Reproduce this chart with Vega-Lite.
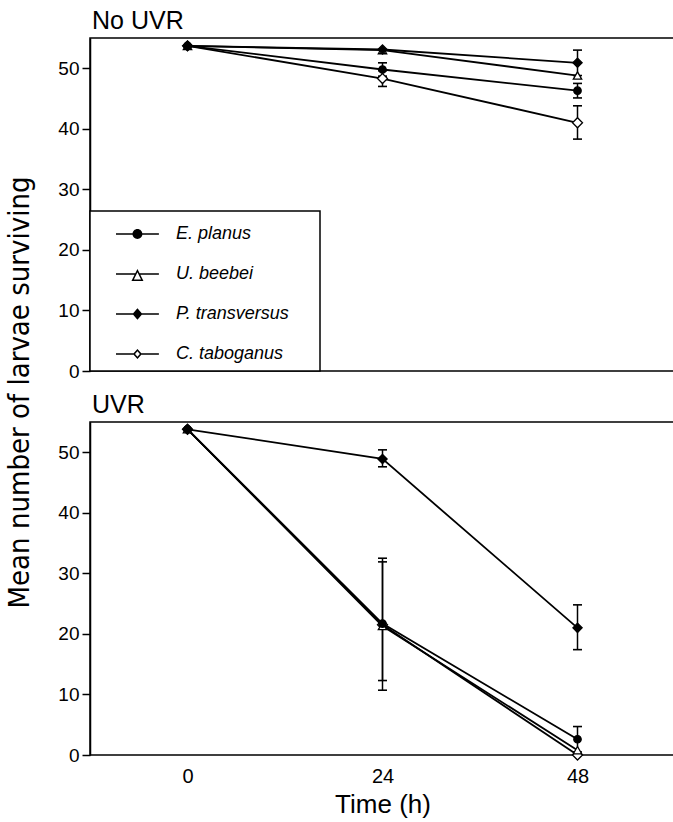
{
  "$schema": "https://vega.github.io/schema/vega-lite/v6.json",
  "background": "white",
  "padding": {"left": 4, "top": 8, "right": 0, "bottom": 5},
  "spacing": 51,
  "bounds": "flush",
  "config": {
    "view": {"stroke": "black", "strokeWidth": 1.5},
    "font": "Liberation Sans",
    "axis": {"domainColor": "black", "domainWidth": 1.5, "tickColor": "black", "tickWidth": 1.5, "labelColor": "black", "labelFont": "Liberation Sans", "labelFontSize": 19, "grid": false, "titleColor": "black"},
    "title": {"font": "Liberation Sans", "fontSize": 25, "fontWeight": "normal", "anchor": "start", "frame": "group", "color": "black", "offset": 4},
    "legend": {"strokeWidth": 1.5}
  },
  "datasets": {
    "means": [
      {"panel": "No UVR", "species": "C. taboganus", "time": 0, "mean": 53.7},
      {"panel": "No UVR", "species": "C. taboganus", "time": 24, "mean": 48.3},
      {"panel": "No UVR", "species": "C. taboganus", "time": 48, "mean": 41.0},
      {"panel": "No UVR", "species": "U. beebei", "time": 0, "mean": 53.7},
      {"panel": "No UVR", "species": "U. beebei", "time": 24, "mean": 53.0},
      {"panel": "No UVR", "species": "U. beebei", "time": 48, "mean": 48.8},
      {"panel": "No UVR", "species": "E. planus", "time": 0, "mean": 53.7},
      {"panel": "No UVR", "species": "E. planus", "time": 24, "mean": 49.8},
      {"panel": "No UVR", "species": "E. planus", "time": 48, "mean": 46.3},
      {"panel": "No UVR", "species": "P. transversus", "time": 0, "mean": 53.7},
      {"panel": "No UVR", "species": "P. transversus", "time": 24, "mean": 53.1},
      {"panel": "No UVR", "species": "P. transversus", "time": 48, "mean": 50.9},
      {"panel": "UVR", "species": "C. taboganus", "time": 0, "mean": 53.8},
      {"panel": "UVR", "species": "C. taboganus", "time": 24, "mean": 21.5},
      {"panel": "UVR", "species": "C. taboganus", "time": 48, "mean": 0.0},
      {"panel": "UVR", "species": "U. beebei", "time": 0, "mean": 53.8},
      {"panel": "UVR", "species": "U. beebei", "time": 24, "mean": 21.3},
      {"panel": "UVR", "species": "U. beebei", "time": 48, "mean": 0.8},
      {"panel": "UVR", "species": "E. planus", "time": 0, "mean": 53.8},
      {"panel": "UVR", "species": "E. planus", "time": 24, "mean": 21.7},
      {"panel": "UVR", "species": "E. planus", "time": 48, "mean": 2.6},
      {"panel": "UVR", "species": "P. transversus", "time": 0, "mean": 53.8},
      {"panel": "UVR", "species": "P. transversus", "time": 24, "mean": 48.9},
      {"panel": "UVR", "species": "P. transversus", "time": 48, "mean": 21.0}
    ],
    "errs": [
      {"panel": "No UVR", "species": "E. planus", "time": 24, "lo": 48.7, "hi": 50.9},
      {"panel": "No UVR", "species": "C. taboganus", "time": 24, "lo": 47.0, "hi": 49.6},
      {"panel": "No UVR", "species": "P. transversus", "time": 48, "lo": 48.8, "hi": 53.0},
      {"panel": "No UVR", "species": "E. planus", "time": 48, "lo": 45.1, "hi": 47.5},
      {"panel": "No UVR", "species": "C. taboganus", "time": 48, "lo": 38.3, "hi": 43.8},
      {"panel": "UVR", "species": "P. transversus", "time": 24, "lo": 47.6, "hi": 50.4},
      {"panel": "UVR", "species": "P. transversus", "time": 48, "lo": 17.4, "hi": 24.8},
      {"panel": "UVR", "species": "E. planus", "time": 24, "lo": 10.7, "hi": 32.5},
      {"panel": "UVR", "species": "C. taboganus", "time": 24, "lo": 12.3, "hi": 31.9},
      {"panel": "UVR", "species": "E. planus", "time": 48, "lo": 0.5, "hi": 4.7}
    ]
  },
  "vconcat": [
    {
      "title": {"text": "No UVR", "dx": 2},
      "width": 585,
      "height": 333,
      "resolve": {"scale": {"shape": "independent"}},
      "layer": [
        {
          "data": {"name": "means"},
          "transform": [{"filter": "datum.panel === 'No UVR'"}],
          "mark": {"type": "line", "color": "black", "strokeWidth": 1.8},
          "encoding": {
            "x": {"field": "time", "type": "quantitative", "scale": {"domain": [-12, 60], "nice": false, "zero": false}, "axis": null},
            "y": {"field": "mean", "type": "quantitative", "scale": {"domain": [0, 55], "nice": false, "zero": false},
              "title": "Mean number of larvae surviving",
              "axis": {"values": [0, 5, 10, 15, 20, 25, 30, 35, 40, 45, 50], "labelExpr": "datum.value % 10 === 0 ? datum.label : ''",
                "tickSize": {"condition": {"test": "datum.value % 10 === 0", "value": 8}, "value": 5},
                "labelPadding": 3,
                "titleFont": "DejaVu Sans Condensed, Roboto, Liberation Sans", "titleFontSize": 29, "titleFontWeight": "normal",
                "titleX": -62, "titleY": 354, "titleAngle": 270, "titleAlign": "center", "titleBaseline": "alphabetic"}},
            "detail": {"field": "species", "type": "nominal"}
          }
        },
        {
          "data": {"name": "errs"},
          "transform": [{"filter": "datum.panel === 'No UVR'"}],
          "mark": {"type": "rule", "color": "black", "strokeWidth": 1.5},
          "encoding": {
            "x": {"field": "time", "type": "quantitative"},
            "y": {"field": "lo", "type": "quantitative", "title": "Mean number of larvae surviving"},
            "y2": {"field": "hi"}
          }
        },
        {
          "data": {"name": "errs"},
          "transform": [{"filter": "datum.panel === 'No UVR'"}],
          "mark": {"type": "tick", "orient": "horizontal", "color": "black", "size": 9, "thickness": 1.6, "opacity": 1},
          "encoding": {
            "x": {"field": "time", "type": "quantitative"},
            "y": {"field": "lo", "type": "quantitative", "title": "Mean number of larvae surviving"}
          }
        },
        {
          "data": {"name": "errs"},
          "transform": [{"filter": "datum.panel === 'No UVR'"}],
          "mark": {"type": "tick", "orient": "horizontal", "color": "black", "size": 9, "thickness": 1.6, "opacity": 1},
          "encoding": {
            "x": {"field": "time", "type": "quantitative"},
            "y": {"field": "hi", "type": "quantitative", "title": "Mean number of larvae surviving"}
          }
        },
        {
          "data": {"name": "means"},
          "transform": [{"filter": "datum.panel === 'No UVR'"}],
          "mark": {"type": "point", "filled": true, "stroke": "black", "strokeWidth": 1.3, "opacity": 1},
          "encoding": {
            "x": {"field": "time", "type": "quantitative"},
            "y": {"field": "mean", "type": "quantitative", "title": "Mean number of larvae surviving"},
            "shape": {"field": "species", "type": "nominal", "legend": null,
              "scale": {"domain": ["E. planus", "U. beebei", "P. transversus", "C. taboganus"], "range": ["circle", "triangle-up", "diamond", "diamond"]}},
            "fill": {"field": "species", "type": "nominal", "legend": null,
              "scale": {"domain": ["E. planus", "U. beebei", "P. transversus", "C. taboganus"], "range": ["black", "white", "black", "white"]}},
            "size": {"field": "species", "type": "nominal", "legend": null,
              "scale": {"domain": ["E. planus", "U. beebei", "P. transversus", "C. taboganus"], "range": [55, 100, 80, 45]}}
          }
        },
        {
          "data": {"name": "means"},
          "transform": [{"filter": "false"}],
          "mark": {"type": "point", "filled": true, "color": "black", "opacity": 1},
          "encoding": {
            "x": {"field": "time", "type": "quantitative"},
            "y": {"field": "mean", "type": "quantitative", "title": "Mean number of larvae surviving"},
            "shape": {"field": "species", "type": "nominal",
              "scale": {"domain": ["E. planus", "U. beebei", "P. transversus", "C. taboganus"],
                "range": [
                  "M0.2,-0.053H3.06V0.053H0.2Z M1.96,0A0.33,0.33 0 1,1 1.3,0A0.33,0.33 0 1,1 1.96,0Z",
                  "M0.2,-0.053H1.48V0.053H0.2Z M1.78,-0.053H3.06V0.053H1.78Z M1.63,-0.34L2.03,0.46L1.23,0.46Z M1.63,-0.116L1.392,0.36L1.868,0.36Z",
                  "M0.2,-0.053H3.06V0.053H0.2Z M1.63,-0.38L1.96,0L1.63,0.38L1.3,0Z",
                  "M0.2,-0.053H1.36V0.053H0.2Z M1.9,-0.053H3.06V0.053H1.9Z M1.63,-0.33L1.93,0L1.63,0.33L1.33,0Z M1.63,-0.18L1.47,0L1.63,0.18L1.79,0Z"
                ]},
              "legend": {"title": "\u2003", "titleOrient": "right", "titleFontSize": 13, "titlePadding": 23,
                "orient": "bottom-left", "offset": 0, "padding": 8, "strokeColor": "black", "fillColor": "white",
                "symbolSize": 900, "symbolStrokeWidth": 0, "symbolFillColor": "black", "symbolOpacity": 1,
                "labelFont": "Liberation Sans", "labelFontStyle": "italic", "labelFontSize": 18, "labelColor": "black", "labelOffset": 48, "rowPadding": 16}}
          }
        }
      ]
    },
    {
      "title": {"text": "UVR", "dx": 2},
      "width": 585,
      "height": 333,
      "layer": [
        {
          "data": {"name": "means"},
          "transform": [{"filter": "datum.panel === 'UVR'"}],
          "mark": {"type": "line", "color": "black", "strokeWidth": 1.8},
          "encoding": {
            "x": {"field": "time", "type": "quantitative", "scale": {"domain": [-12, 60], "nice": false, "zero": false},
              "title": "Time (h)",
              "axis": {"values": [0, 24, 48], "ticks": false, "domain": false, "labelPadding": 11, "labelFontSize": 20,
                "titleFont": "Liberation Sans", "titleFontSize": 26, "titleFontWeight": "normal", "titlePadding": 5}},
            "y": {"field": "mean", "type": "quantitative", "scale": {"domain": [0, 55], "nice": false, "zero": false},
              "title": null,
              "axis": {"values": [0, 5, 10, 15, 20, 25, 30, 35, 40, 45, 50], "labelExpr": "datum.value % 10 === 0 ? datum.label : ''",
                "tickSize": {"condition": {"test": "datum.value % 10 === 0", "value": 8}, "value": 5},
                "labelPadding": 3}},
            "detail": {"field": "species", "type": "nominal"}
          }
        },
        {
          "data": {"name": "errs"},
          "transform": [{"filter": "datum.panel === 'UVR'"}],
          "mark": {"type": "rule", "color": "black", "strokeWidth": 1.5},
          "encoding": {
            "x": {"field": "time", "type": "quantitative", "title": "Time (h)"},
            "y": {"field": "lo", "type": "quantitative", "title": null},
            "y2": {"field": "hi"}
          }
        },
        {
          "data": {"name": "errs"},
          "transform": [{"filter": "datum.panel === 'UVR'"}],
          "mark": {"type": "tick", "orient": "horizontal", "color": "black", "size": 9, "thickness": 1.6, "opacity": 1},
          "encoding": {
            "x": {"field": "time", "type": "quantitative", "title": "Time (h)"},
            "y": {"field": "lo", "type": "quantitative", "title": null}
          }
        },
        {
          "data": {"name": "errs"},
          "transform": [{"filter": "datum.panel === 'UVR'"}],
          "mark": {"type": "tick", "orient": "horizontal", "color": "black", "size": 9, "thickness": 1.6, "opacity": 1},
          "encoding": {
            "x": {"field": "time", "type": "quantitative", "title": "Time (h)"},
            "y": {"field": "hi", "type": "quantitative", "title": null}
          }
        },
        {
          "data": {"name": "means"},
          "transform": [{"filter": "datum.panel === 'UVR'"}],
          "mark": {"type": "point", "filled": true, "stroke": "black", "strokeWidth": 1.3, "opacity": 1},
          "encoding": {
            "x": {"field": "time", "type": "quantitative", "title": "Time (h)"},
            "y": {"field": "mean", "type": "quantitative", "title": null},
            "shape": {"field": "species", "type": "nominal", "legend": null,
              "scale": {"domain": ["E. planus", "U. beebei", "P. transversus", "C. taboganus"], "range": ["circle", "triangle-up", "diamond", "diamond"]}},
            "fill": {"field": "species", "type": "nominal", "legend": null,
              "scale": {"domain": ["E. planus", "U. beebei", "P. transversus", "C. taboganus"], "range": ["black", "white", "black", "white"]}},
            "size": {"field": "species", "type": "nominal", "legend": null,
              "scale": {"domain": ["E. planus", "U. beebei", "P. transversus", "C. taboganus"], "range": [55, 100, 80, 45]}}
          }
        }
      ]
    }
  ]
}
